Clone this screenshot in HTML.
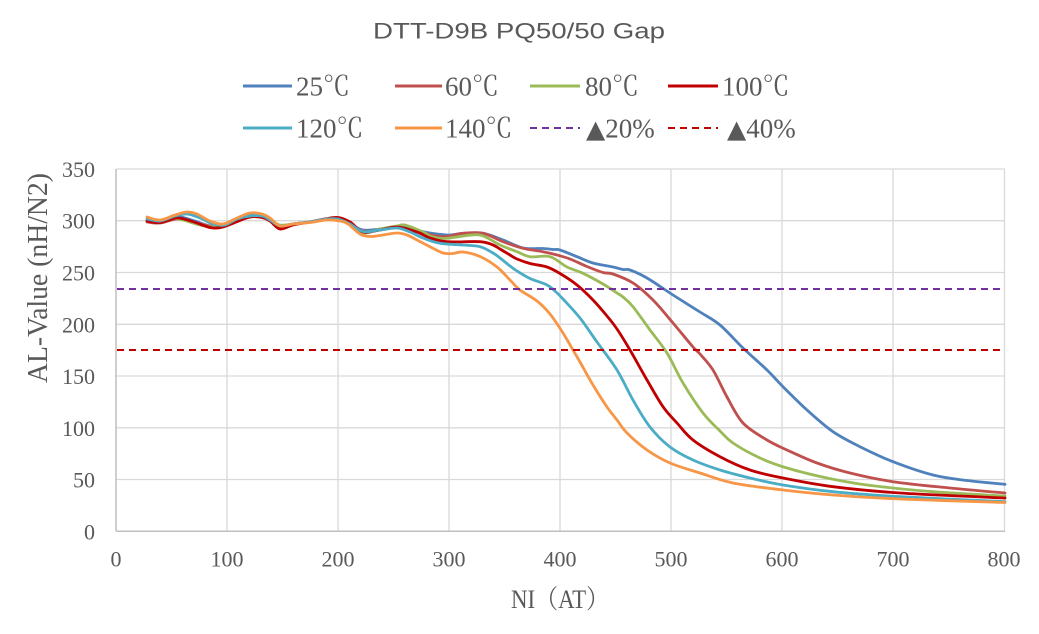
<!DOCTYPE html>
<html>
<head>
<meta charset="utf-8">
<style>
  html, body { margin:0; padding:0; background:#ffffff; }
  svg { display:block; }
  .tick { font-family:"Liberation Serif","Noto Serif CJK SC",serif; font-size:22px; fill:#595959; }
  .leg { font-family:"Liberation Serif","Noto Serif CJK SC",serif; font-size:27px; fill:#595959; }
  .tri { font-family:"DejaVu Sans",sans-serif; font-size:25px; }
  .ser { fill:none; stroke-width:2.8; stroke-linejoin:round; stroke-linecap:round; }
</style>
</head>
<body>
<svg id="chart" width="1039" height="634" viewBox="0 0 1039 634" xmlns="http://www.w3.org/2000/svg">
  <rect x="0" y="0" width="1039" height="634" fill="#ffffff"/>

  <!-- Title -->
  <text x="519" y="38.5" text-anchor="middle" textLength="292" lengthAdjust="spacingAndGlyphs" style="font-family:'Liberation Sans','DejaVu Sans',sans-serif;font-size:22.5px;fill:#595959;">DTT-D9B PQ50/50 Gap</text>

  <!-- Legend row 1 -->
  <line x1="243" y1="86" x2="292" y2="86" stroke="#4F81BD" stroke-width="3"/>
  <text class="leg" x="296" y="95.5">25℃</text>
  <line x1="395" y1="86" x2="442" y2="86" stroke="#C0504D" stroke-width="3"/>
  <text class="leg" x="445" y="95.5">60℃</text>
  <line x1="530" y1="86" x2="580" y2="86" stroke="#9BBB59" stroke-width="3"/>
  <text class="leg" x="585" y="95.5">80℃</text>
  <line x1="668" y1="86" x2="718" y2="86" stroke="#C00000" stroke-width="3"/>
  <text class="leg" x="722" y="95.5">100℃</text>

  <!-- Legend row 2 -->
  <line x1="243" y1="128" x2="292" y2="128" stroke="#4BACC6" stroke-width="3"/>
  <text class="leg" x="296" y="137.5">120℃</text>
  <line x1="395" y1="128" x2="442" y2="128" stroke="#F79646" stroke-width="3"/>
  <text class="leg" x="445" y="137.5">140℃</text>
  <line x1="530" y1="128" x2="580" y2="128" stroke="#7030A0" stroke-width="2" stroke-dasharray="7,5"/>
  <text class="leg" x="586" y="137.5"><tspan class="tri">▲</tspan>20%</text>
  <line x1="668" y1="128" x2="718" y2="128" stroke="#C00000" stroke-width="2" stroke-dasharray="7,5"/>
  <text class="leg" x="727" y="137.5"><tspan class="tri">▲</tspan>40%</text>

  <!-- Gridlines -->
  <g stroke="#D9D9D9" stroke-width="1.3">
    <line x1="116" y1="169" x2="1005" y2="169"/>
    <line x1="116" y1="220.7" x2="1005" y2="220.7"/>
    <line x1="116" y1="272.5" x2="1005" y2="272.5"/>
    <line x1="116" y1="324.3" x2="1005" y2="324.3"/>
    <line x1="116" y1="376" x2="1005" y2="376"/>
    <line x1="116" y1="427.8" x2="1005" y2="427.8"/>
    <line x1="116" y1="479.5" x2="1005" y2="479.5"/>
    <line x1="227" y1="169" x2="227" y2="531.3"/>
    <line x1="338" y1="169" x2="338" y2="531.3"/>
    <line x1="449" y1="169" x2="449" y2="531.3"/>
    <line x1="560" y1="169" x2="560" y2="531.3"/>
    <line x1="671" y1="169" x2="671" y2="531.3"/>
    <line x1="782" y1="169" x2="782" y2="531.3"/>
    <line x1="893" y1="169" x2="893" y2="531.3"/>
    <line x1="1004.5" y1="169" x2="1004.5" y2="531.3"/>
  </g>
  <!-- Axes -->
  <g stroke="#BFBFBF" stroke-width="1.5">
    <line x1="116" y1="169" x2="116" y2="531.3"/>
    <line x1="116" y1="531.3" x2="1005" y2="531.3"/>
  </g>

  <!-- Y tick labels -->
  <g class="tick" text-anchor="end">
    <text x="95" y="539.3">0</text>
    <text x="95" y="487.5">50</text>
    <text x="95" y="435.8">100</text>
    <text x="95" y="384">150</text>
    <text x="95" y="332.3">200</text>
    <text x="95" y="280.5">250</text>
    <text x="95" y="228.7">300</text>
    <text x="95" y="177">350</text>
  </g>
  <!-- X tick labels -->
  <g class="tick" text-anchor="middle">
    <text x="116" y="566.5">0</text>
    <text x="227" y="566.5">100</text>
    <text x="338" y="566.5">200</text>
    <text x="449" y="566.5">300</text>
    <text x="560" y="566.5">400</text>
    <text x="671" y="566.5">500</text>
    <text x="782" y="566.5">600</text>
    <text x="893" y="566.5">700</text>
    <text x="1004" y="566.5">800</text>
  </g>

  <!-- Axis titles -->
  <text transform="translate(47,278) rotate(-90)" text-anchor="middle" textLength="210" lengthAdjust="spacingAndGlyphs" style="font-family:'Liberation Serif','Noto Serif CJK SC',serif;font-size:28px;fill:#595959;">AL-Value (nH/N2)</text>
  <text x="560" y="608" text-anchor="middle" textLength="98" lengthAdjust="spacingAndGlyphs" style="font-family:'Liberation Serif','Noto Serif CJK SC',serif;font-size:26px;fill:#595959;">NI（AT）</text>

  <!-- Series -->
  <polyline class="ser" stroke="#4F81BD" points="147,220 160,221 177,216.5 193,220.5 210,226 223,226 237,220 250,215.5 262,216.5 270,220 280,226 293,224 310,222 327,219 340,220 350,224 363,230 380,229 397,226.7 410,228.5 423,231.7 437,234 450,235 463,233.3 483,233.3 503,240 523,248 543,248.5 553,249.5 560,250 577,256.7 593,263 613,267 623,269.5 630,270 647,278 673,295 700,312 720,325 743,348 767,370 783,386.7 807,410 833,431.7 860,446.7 893,461.7 933,475 967,480.5 1005,484.3"/>
  <polyline class="ser" stroke="#C0504D" points="147,222 160,223 177,219 193,222 210,226 223,226 237,221 250,217 262,217 270,221 280,227 293,224 310,222 327,219 340,220 350,224 363,231 380,230 397,227 423,233 443,236.7 463,233.3 483,233.3 503,241.7 523,248.3 543,251.7 557,255 570,259 587,266.5 603,272.5 613,274 633,283 653,300 673,323 693,347 700,354 713,370 727,397 743,423 767,440 787,450 817,463 850,473 893,481.7 950,488 1005,493"/>
  <polyline class="ser" stroke="#9BBB59" points="147,220 160,222 170,218 183,220 200,225 213,227 225,225 237,220 250,216 262,217 270,220 280,225 293,224 310,222 327,219 340,220 350,225 363,233 380,229 397,226 405,225 423,232 430,236 443,238.5 457,237 480,235 500,245 517,251.7 530,256.7 550,256.7 567,267 583,273.3 603,284 617,293 623,297 633,306.7 650,330 667,353 683,383 703,413 720,431 733,443 760,458 787,468 827,478 867,485 933,491.7 1005,496"/>
  <polyline class="ser" stroke="#C00000" points="147,221 160,222.5 177,218 193,221.7 205,226 213,228 223,227 237,221.7 250,217 262,217.5 270,221 280,229 293,225 310,222 325,219 338,217.5 350,222 363,232 380,230 397,227 417,232 430,238 447,241.7 480,241.7 493,245 500,249 510,255 517,259 530,263.5 547,267 560,273.5 577,285 593,300 607,316 617,329 630,350 647,380 663,406.7 677,423 693,440 720,456.7 750,470 783,478 833,486.7 900,493 1005,498"/>
  <polyline class="ser" stroke="#4BACC6" points="147,219 160,221 175,216 187,214 200,218 213,224 225,225 237,219 250,216 262,216 270,220 280,226 293,224 310,222 327,219 338,219 350,224 363,231.5 380,230 397,228 410,232 423,238 440,243.3 463,245 480,246.7 493,253 500,258 510,266 517,271 530,278.5 547,285 556,292 563,299 580,318 597,342 617,370 633,400 650,427 670,447 693,460 720,470 750,478 783,485 833,491.7 900,496.7 1005,501.7"/>
  <polyline class="ser" stroke="#F79646" points="147,217 160,220 175,215 187,212 197,214 210,221 223,224 237,218 250,213 262,214 270,218 280,226 293,224 310,222.5 327,220 340,221 348,224 360,234 370,236.5 383,235 397,233 407,235 417,240 430,246.7 443,253 453,253.5 463,252 480,256.5 497,267 510,280 520,290 537,301 550,314 563,333 573,350 580,362 593,385 607,407 617,420 627,433 647,450 670,463 700,473 733,483 783,490 833,495 900,499 1005,502.5"/>

  <!-- Threshold lines -->
  <line x1="117" y1="289" x2="1005" y2="289" stroke="#7030A0" stroke-width="2" stroke-dasharray="7,5"/>
  <line x1="117" y1="350" x2="1005" y2="350" stroke="#C00000" stroke-width="2" stroke-dasharray="7,5"/>
</svg>
<script>
(function(){
  try {
    var svgNS = "http://www.w3.org/2000/svg";
    var pls = document.querySelectorAll("polyline.ser");
    for (var k = 0; k < pls.length; k++) {
      var pl = pls[k];
      var raw = pl.getAttribute("points").trim().split(/\s+/);
      var P = raw.map(function(s){ var a = s.split(","); return [parseFloat(a[0]), parseFloat(a[1])]; });
      if (P.length < 3) continue;
      var d = "M" + P[0][0] + "," + P[0][1];
      for (var i = 0; i < P.length - 1; i++) {
        var p0 = P[i > 0 ? i - 1 : i], p1 = P[i], p2 = P[i + 1], p3 = P[i + 2 < P.length ? i + 2 : i + 1];
        var c1x = p1[0] + (p2[0] - p0[0]) / 6, c1y = p1[1] + (p2[1] - p0[1]) / 6;
        var c2x = p2[0] - (p3[0] - p1[0]) / 6, c2y = p2[1] - (p3[1] - p1[1]) / 6;
        d += " C" + c1x.toFixed(2) + "," + c1y.toFixed(2) + " " + c2x.toFixed(2) + "," + c2y.toFixed(2) + " " + p2[0] + "," + p2[1];
      }
      var path = document.createElementNS(svgNS, "path");
      path.setAttribute("d", d);
      path.setAttribute("class", "ser");
      path.setAttribute("stroke", pl.getAttribute("stroke"));
      pl.parentNode.replaceChild(path, pl);
    }
  } catch (e) {}
})();
</script>
</body>
</html>
